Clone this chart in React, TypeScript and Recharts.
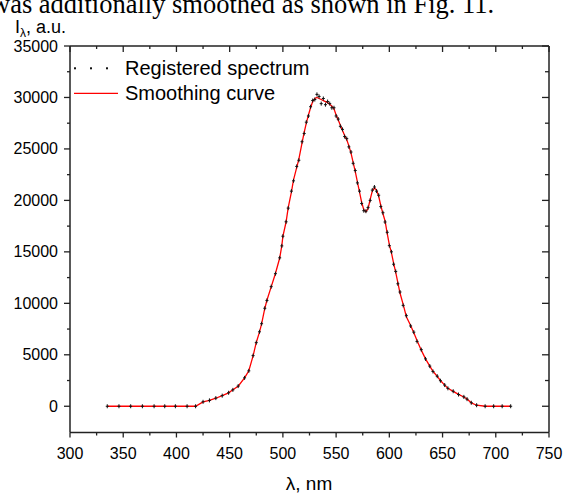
import React from "react";
import { ComposedChart, Line, XAxis, YAxis } from "recharts";

const wavelengths = [
  335, 346, 357, 368, 379, 389, 399, 410, 418, 425,
  431, 437, 443, 449, 453, 458, 464, 468, 472, 475,
  478, 480, 483, 485, 489, 493, 497, 499, 500, 503,
  505, 508, 510, 513, 515, 518, 520, 522, 524, 526,
  528, 530, 532, 534, 536, 538, 540, 542, 544, 546,
  548, 550, 552, 554, 556, 558, 560, 562, 564, 566,
  568, 570, 572, 574, 576, 578, 580, 582, 584, 586,
  588, 590, 592, 594, 596, 598, 600, 602, 604, 606,
  608, 610, 613, 616, 620, 623, 626, 630, 634, 638,
  641, 645, 648, 652, 655, 660, 665, 670, 673, 677,
  682, 690, 698, 706, 714,
];

const registered = [
  0, 0, 0, 0, 0, 0, 0, 0, 0, 430,
  570, 790, 1030, 1310, 1590, 1960, 2760, 3440, 4920, 6180,
  7230, 8020, 9520, 10280, 11620, 12880, 14420, 15580, 16520, 17920,
  19250, 20900, 21900, 23300, 23900, 25700, 26500, 27600, 28200, 29100,
  29700, 29800, 30300, 30100, 29400, 29900, 29300, 29600, 29400, 29000,
  29000, 28200, 27900, 27200, 26900, 26200, 26000, 25200, 24700, 23600,
  22900, 21700, 20900, 19700, 19000, 18950, 19300, 20000, 21000, 21300,
  20900, 20500, 19400, 18800, 17900, 16900, 15600, 15000, 13800, 13100,
  11900, 11100, 9800, 8800, 7800, 7200, 6300, 5500, 4600, 3900,
  3380, 2920, 2480, 2060, 1740, 1460, 1140, 910, 690, 340,
  100, 0, 0, 0, 0,
];

const smoothing = [
  0, 0, 0, 0, 0, 0, 0, 0, 0, 420,
  580, 780, 1040, 1300, 1600, 1950, 2750, 3450, 4900, 6200,
  7200, 8000, 9500, 10300, 11600, 12900, 14400, 15600, 16500, 17900,
  19300, 20800, 22000, 23200, 24000, 25600, 26600, 27500, 28300, 29000,
  29600, 29900, 30000, 29900, 29800, 29700, 29600, 29500, 29350, 29150,
  28900, 28300, 27800, 27300, 26800, 26300, 25900, 25300, 24600, 23700,
  22800, 21800, 20800, 19800, 19100, 18900, 19200, 20100, 20900, 21200,
  21000, 20400, 19500, 18700, 18000, 16800, 15700, 14900, 13900, 13000,
  12000, 11000, 9900, 8700, 7850, 7150, 6400, 5450, 4600, 3900,
  3400, 2900, 2500, 2050, 1750, 1450, 1150, 900, 700, 330,
  100, 0, 0, 0, 0,
];

const xTicks = [300, 325, 350, 375, 400, 425, 450, 475, 500, 525, 550, 575, 600, 625, 650, 675, 700, 725, 750];
const yTicks = [0, 2500, 5000, 7500, 10000, 12500, 15000, 17500, 20000, 22500, 25000, 27500, 30000, 32500, 35000];

const seriesNames = ["Registered spectrum", "Smoothing curve"];
const xLabel = "λ, nm";
const headerText = "was additionally smoothed as shown in Fig. 11.";

const data = wavelengths.map((w, i) => ({ w, reg: registered[i], smooth: smoothing[i] }));

const SANS = '"Liberation Sans", Arial, sans-serif';
const SERIF = '"Liberation Serif", "Times New Roman", serif';
const AX = "#222";
const RED = "#ff0000";

const BottomTick = (props: any) => {
  const { x, y, payload } = props;
  const v = payload.value;
  const major = v % 50 === 0;
  return (
    <g>
      <line x1={x} x2={x} y1={y} y2={y + (major ? 5 : 3)} stroke={AX} strokeWidth={1.3} />
      {major && (
        <text x={x} y={y + 26.5} textAnchor="middle" fontFamily={SANS} fontSize={16} fill="#000">
          {v}
        </text>
      )}
    </g>
  );
};

const TopTick = (props: any) => {
  const { x, y, payload } = props;
  const major = payload.value % 50 === 0;
  return <line x1={x} x2={x} y1={y} y2={y + (major ? 6 : 3)} stroke={AX} strokeWidth={1.3} />;
};

const LeftTick = (props: any) => {
  const { x, y, payload } = props;
  const v = payload.value;
  const major = v % 5000 === 0;
  return (
    <g>
      <line x1={x - (major ? 6 : 3)} x2={x} y1={y} y2={y} stroke={AX} strokeWidth={1.3} />
      {major && (
        <text x={x - 12} y={y + 5.5} textAnchor="end" fontFamily={SANS} fontSize={16} fill="#000">
          {v}
        </text>
      )}
    </g>
  );
};

const RightTick = (props: any) => {
  const { x, y, payload } = props;
  const major = payload.value % 5000 === 0;
  return <line x1={x - (major ? 7 : 4)} x2={x} y1={y} y2={y} stroke={AX} strokeWidth={1.3} />;
};

const RegDot = (props: any) => {
  const { cx, cy } = props;
  if (cx == null || cy == null) return <g />;
  return (
    <g>
      <line x1={cx - 1.5} x2={cx + 1.5} y1={cy} y2={cy} stroke="#111" strokeWidth={1} />
      <line x1={cx} x2={cx} y1={cy - 2} y2={cy + 2} stroke="#111" strokeWidth={1} />
    </g>
  );
};

export default function App() {
  return (
    <div style={{ position: "absolute", left: 0, top: 0, width: 564, height: 493, background: "#fff", overflow: "hidden" }}>
      <ComposedChart width={564} height={493} data={data} margin={{ top: 46, right: 15, left: 0, bottom: 0 }}>
        <XAxis
          xAxisId="bottom"
          dataKey="w"
          type="number"
          domain={[300, 750]}
          ticks={xTicks}
          interval={0}
          height={60.5}
          tickSize={0}
          tickMargin={0}
          tick={<BottomTick />}
          axisLine={{ stroke: AX, strokeWidth: 1.5 }}
          tickLine={false}
          allowDataOverflow
        />
        <XAxis
          xAxisId="top"
          dataKey="w"
          type="number"
          orientation="top"
          mirror
          domain={[300, 750]}
          ticks={xTicks}
          interval={0}
          height={1}
          tickSize={0}
          tickMargin={0}
          tick={<TopTick />}
          axisLine={{ stroke: AX, strokeWidth: 1.5 }}
          tickLine={false}
          allowDataOverflow
        />
        <YAxis
          yAxisId="left"
          type="number"
          domain={[-2550, 35000]}
          ticks={yTicks}
          interval={0}
          width={70}
          tickSize={0}
          tickMargin={0}
          tick={<LeftTick />}
          axisLine={{ stroke: AX, strokeWidth: 1.5 }}
          tickLine={false}
          allowDataOverflow
        />
        <YAxis
          yAxisId="right"
          type="number"
          orientation="right"
          mirror
          domain={[-2550, 35000]}
          ticks={yTicks}
          interval={0}
          width={1}
          tickSize={0}
          tickMargin={0}
          tick={<RightTick />}
          axisLine={{ stroke: AX, strokeWidth: 1.5 }}
          tickLine={false}
          allowDataOverflow
        />
        <Line
          xAxisId="top"
          yAxisId="right"
          dataKey="reg"
          stroke="none"
          dot={false}
          activeDot={false}
          legendType="none"
          isAnimationActive={false}
        />
        <Line
          xAxisId="bottom"
          yAxisId="left"
          name={seriesNames[0]}
          dataKey="reg"
          stroke="none"
          dot={<RegDot />}
          activeDot={false}
          isAnimationActive={false}
        />
        <Line
          xAxisId="bottom"
          yAxisId="left"
          name={seriesNames[1]}
          dataKey="smooth"
          type="linear"
          stroke={RED}
          strokeWidth={1.3}
          dot={false}
          activeDot={false}
          isAnimationActive={false}
        />
      </ComposedChart>
      <svg width={564} height={493} style={{ position: "absolute", left: 0, top: 0, pointerEvents: "none" }}>
        <text x={-9} y={13.3} fontFamily={SERIF} fontSize={26.5} fill="#000">
          {headerText}
        </text>
        <text x={15} y={33} fontFamily={SANS} fontSize={18} fill="#000">
          I
          <tspan fontSize={12} dy={4}>λ</tspan>
          <tspan dy={-4}>, a.u.</tspan>
        </text>
        <rect x={74} y={67.3} width={2} height={2} fill="#111" />
        <rect x={90} y={67.3} width={2} height={2} fill="#111" />
        <rect x={106} y={67.3} width={2} height={2} fill="#111" />
        <text x={125} y={74.5} fontFamily={SANS} fontSize={20} fill="#000">
          {seriesNames[0]}
        </text>
        <line x1={74} x2={118} y1={93.3} y2={93.3} stroke={RED} strokeWidth={1.3} />
        <text x={125} y={99.5} fontFamily={SANS} fontSize={20} fill="#000">
          {seriesNames[1]}
        </text>
        <text x={309} y={490} textAnchor="middle" fontFamily={SANS} fontSize={19} fill="#000">
          {xLabel}
        </text>
      </svg>
    </div>
  );
}
